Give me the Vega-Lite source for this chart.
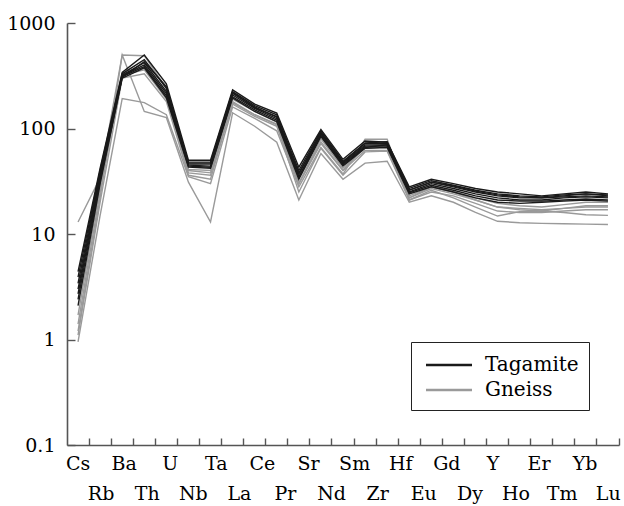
{
  "$schema": "https://vega.github.io/schema/vega-lite/v6.json",
  "width": 552,
  "height": 422,
  "autosize": {"type": "none"},
  "padding": {"left": 67, "top": 23, "right": 5, "bottom": 61},
  "background": "white",
  "config": {
    "view": {"stroke": null}
  },
  "data": {
    "values": [
      {"r":"Gneiss","s":"G1","e":"Cs","v":13},{"r":"Gneiss","s":"G1","e":"Rb","v":34},{"r":"Gneiss","s":"G1","e":"Ba","v":498},{"r":"Gneiss","s":"G1","e":"Th","v":490},{"r":"Gneiss","s":"G1","e":"U","v":240},{"r":"Gneiss","s":"G1","e":"Nb","v":40},{"r":"Gneiss","s":"G1","e":"Ta","v":38},{"r":"Gneiss","s":"G1","e":"La","v":175},{"r":"Gneiss","s":"G1","e":"Ce","v":135},{"r":"Gneiss","s":"G1","e":"Pr","v":110},{"r":"Gneiss","s":"G1","e":"Sr","v":30},{"r":"Gneiss","s":"G1","e":"Nd","v":72},{"r":"Gneiss","s":"G1","e":"Sm","v":40},{"r":"Gneiss","s":"G1","e":"Zr","v":68},{"r":"Gneiss","s":"G1","e":"Hf","v":70},{"r":"Gneiss","s":"G1","e":"Eu","v":22},{"r":"Gneiss","s":"G1","e":"Gd","v":28},{"r":"Gneiss","s":"G1","e":"Tb","v":25},{"r":"Gneiss","s":"G1","e":"Dy","v":21},{"r":"Gneiss","s":"G1","e":"Y","v":18},{"r":"Gneiss","s":"G1","e":"Ho","v":17.5},{"r":"Gneiss","s":"G1","e":"Er","v":17},{"r":"Gneiss","s":"G1","e":"Tm","v":17.5},{"r":"Gneiss","s":"G1","e":"Yb","v":18},{"r":"Gneiss","s":"G1","e":"Lu","v":18},
      {"r":"Gneiss","s":"G2","e":"Cs","v":1.2},{"r":"Gneiss","s":"G2","e":"Rb","v":22},{"r":"Gneiss","s":"G2","e":"Ba","v":498},{"r":"Gneiss","s":"G2","e":"Th","v":145},{"r":"Gneiss","s":"G2","e":"U","v":127},{"r":"Gneiss","s":"G2","e":"Nb","v":31},{"r":"Gneiss","s":"G2","e":"Ta","v":13},{"r":"Gneiss","s":"G2","e":"La","v":141},{"r":"Gneiss","s":"G2","e":"Ce","v":105},{"r":"Gneiss","s":"G2","e":"Pr","v":74},{"r":"Gneiss","s":"G2","e":"Sr","v":21},{"r":"Gneiss","s":"G2","e":"Nd","v":58},{"r":"Gneiss","s":"G2","e":"Sm","v":33},{"r":"Gneiss","s":"G2","e":"Zr","v":47},{"r":"Gneiss","s":"G2","e":"Hf","v":49},{"r":"Gneiss","s":"G2","e":"Eu","v":20},{"r":"Gneiss","s":"G2","e":"Gd","v":23},{"r":"Gneiss","s":"G2","e":"Tb","v":20},{"r":"Gneiss","s":"G2","e":"Dy","v":16},{"r":"Gneiss","s":"G2","e":"Y","v":13.2},{"r":"Gneiss","s":"G2","e":"Ho","v":12.8},{"r":"Gneiss","s":"G2","e":"Er","v":12.6},{"r":"Gneiss","s":"G2","e":"Tm","v":12.5},{"r":"Gneiss","s":"G2","e":"Yb","v":12.4},{"r":"Gneiss","s":"G2","e":"Lu","v":12.3},
      {"r":"Gneiss","s":"G3","e":"Cs","v":0.95},{"r":"Gneiss","s":"G3","e":"Rb","v":15},{"r":"Gneiss","s":"G3","e":"Ba","v":192},{"r":"Gneiss","s":"G3","e":"Th","v":176},{"r":"Gneiss","s":"G3","e":"U","v":135},{"r":"Gneiss","s":"G3","e":"Nb","v":35},{"r":"Gneiss","s":"G3","e":"Ta","v":30},{"r":"Gneiss","s":"G3","e":"La","v":160},{"r":"Gneiss","s":"G3","e":"Ce","v":125},{"r":"Gneiss","s":"G3","e":"Pr","v":95},{"r":"Gneiss","s":"G3","e":"Sr","v":28},{"r":"Gneiss","s":"G3","e":"Nd","v":66},{"r":"Gneiss","s":"G3","e":"Sm","v":37},{"r":"Gneiss","s":"G3","e":"Zr","v":79},{"r":"Gneiss","s":"G3","e":"Hf","v":79},{"r":"Gneiss","s":"G3","e":"Eu","v":21},{"r":"Gneiss","s":"G3","e":"Gd","v":26},{"r":"Gneiss","s":"G3","e":"Tb","v":22},{"r":"Gneiss","s":"G3","e":"Dy","v":18},{"r":"Gneiss","s":"G3","e":"Y","v":14.8},{"r":"Gneiss","s":"G3","e":"Ho","v":16.3},{"r":"Gneiss","s":"G3","e":"Er","v":16.5},{"r":"Gneiss","s":"G3","e":"Tm","v":16},{"r":"Gneiss","s":"G3","e":"Yb","v":15.2},{"r":"Gneiss","s":"G3","e":"Lu","v":15},
      {"r":"Gneiss","s":"G4","e":"Cs","v":1.7},{"r":"Gneiss","s":"G4","e":"Rb","v":28},{"r":"Gneiss","s":"G4","e":"Ba","v":330},{"r":"Gneiss","s":"G4","e":"Th","v":380},{"r":"Gneiss","s":"G4","e":"U","v":200},{"r":"Gneiss","s":"G4","e":"Nb","v":38},{"r":"Gneiss","s":"G4","e":"Ta","v":36},{"r":"Gneiss","s":"G4","e":"La","v":170},{"r":"Gneiss","s":"G4","e":"Ce","v":130},{"r":"Gneiss","s":"G4","e":"Pr","v":105},{"r":"Gneiss","s":"G4","e":"Sr","v":30},{"r":"Gneiss","s":"G4","e":"Nd","v":75},{"r":"Gneiss","s":"G4","e":"Sm","v":40},{"r":"Gneiss","s":"G4","e":"Zr","v":62},{"r":"Gneiss","s":"G4","e":"Hf","v":62},{"r":"Gneiss","s":"G4","e":"Eu","v":22},{"r":"Gneiss","s":"G4","e":"Gd","v":27},{"r":"Gneiss","s":"G4","e":"Tb","v":24},{"r":"Gneiss","s":"G4","e":"Dy","v":21},{"r":"Gneiss","s":"G4","e":"Y","v":18},{"r":"Gneiss","s":"G4","e":"Ho","v":17},{"r":"Gneiss","s":"G4","e":"Er","v":16.5},{"r":"Gneiss","s":"G4","e":"Tm","v":17.5},{"r":"Gneiss","s":"G4","e":"Yb","v":18.5},{"r":"Gneiss","s":"G4","e":"Lu","v":18.5},
      {"r":"Gneiss","s":"G5","e":"Cs","v":1.4},{"r":"Gneiss","s":"G5","e":"Rb","v":25},{"r":"Gneiss","s":"G5","e":"Ba","v":320},{"r":"Gneiss","s":"G5","e":"Th","v":360},{"r":"Gneiss","s":"G5","e":"U","v":190},{"r":"Gneiss","s":"G5","e":"Nb","v":41},{"r":"Gneiss","s":"G5","e":"Ta","v":40},{"r":"Gneiss","s":"G5","e":"La","v":190},{"r":"Gneiss","s":"G5","e":"Ce","v":145},{"r":"Gneiss","s":"G5","e":"Pr","v":115},{"r":"Gneiss","s":"G5","e":"Sr","v":30},{"r":"Gneiss","s":"G5","e":"Nd","v":80},{"r":"Gneiss","s":"G5","e":"Sm","v":42},{"r":"Gneiss","s":"G5","e":"Zr","v":65},{"r":"Gneiss","s":"G5","e":"Hf","v":67},{"r":"Gneiss","s":"G5","e":"Eu","v":23},{"r":"Gneiss","s":"G5","e":"Gd","v":28},{"r":"Gneiss","s":"G5","e":"Tb","v":25},{"r":"Gneiss","s":"G5","e":"Dy","v":22},{"r":"Gneiss","s":"G5","e":"Y","v":19.5},{"r":"Gneiss","s":"G5","e":"Ho","v":18.5},{"r":"Gneiss","s":"G5","e":"Er","v":18},{"r":"Gneiss","s":"G5","e":"Tm","v":19},{"r":"Gneiss","s":"G5","e":"Yb","v":20},{"r":"Gneiss","s":"G5","e":"Lu","v":20},
      {"r":"Gneiss","s":"G6","e":"Cs","v":1.1},{"r":"Gneiss","s":"G6","e":"Rb","v":20},{"r":"Gneiss","s":"G6","e":"Ba","v":300},{"r":"Gneiss","s":"G6","e":"Th","v":330},{"r":"Gneiss","s":"G6","e":"U","v":180},{"r":"Gneiss","s":"G6","e":"Nb","v":36},{"r":"Gneiss","s":"G6","e":"Ta","v":33},{"r":"Gneiss","s":"G6","e":"La","v":180},{"r":"Gneiss","s":"G6","e":"Ce","v":135},{"r":"Gneiss","s":"G6","e":"Pr","v":108},{"r":"Gneiss","s":"G6","e":"Sr","v":25},{"r":"Gneiss","s":"G6","e":"Nd","v":65},{"r":"Gneiss","s":"G6","e":"Sm","v":36},{"r":"Gneiss","s":"G6","e":"Zr","v":60},{"r":"Gneiss","s":"G6","e":"Hf","v":61},{"r":"Gneiss","s":"G6","e":"Eu","v":21},{"r":"Gneiss","s":"G6","e":"Gd","v":25},{"r":"Gneiss","s":"G6","e":"Tb","v":23},{"r":"Gneiss","s":"G6","e":"Dy","v":19.5},{"r":"Gneiss","s":"G6","e":"Y","v":16.5},{"r":"Gneiss","s":"G6","e":"Ho","v":16},{"r":"Gneiss","s":"G6","e":"Er","v":16},{"r":"Gneiss","s":"G6","e":"Tm","v":16.5},{"r":"Gneiss","s":"G6","e":"Yb","v":17},{"r":"Gneiss","s":"G6","e":"Lu","v":17},
      {"r":"Tagamite","s":"T1","e":"Cs","v":4.4},{"r":"Tagamite","s":"T1","e":"Rb","v":42},{"r":"Tagamite","s":"T1","e":"Ba","v":340},{"r":"Tagamite","s":"T1","e":"Th","v":497},{"r":"Tagamite","s":"T1","e":"U","v":265},{"r":"Tagamite","s":"T1","e":"Nb","v":50},{"r":"Tagamite","s":"T1","e":"Ta","v":50},{"r":"Tagamite","s":"T1","e":"La","v":232},{"r":"Tagamite","s":"T1","e":"Ce","v":170},{"r":"Tagamite","s":"T1","e":"Pr","v":140},{"r":"Tagamite","s":"T1","e":"Sr","v":43},{"r":"Tagamite","s":"T1","e":"Nd","v":98},{"r":"Tagamite","s":"T1","e":"Sm","v":51},{"r":"Tagamite","s":"T1","e":"Zr","v":76},{"r":"Tagamite","s":"T1","e":"Hf","v":74},{"r":"Tagamite","s":"T1","e":"Eu","v":28},{"r":"Tagamite","s":"T1","e":"Gd","v":33},{"r":"Tagamite","s":"T1","e":"Tb","v":30},{"r":"Tagamite","s":"T1","e":"Dy","v":27},{"r":"Tagamite","s":"T1","e":"Y","v":25},{"r":"Tagamite","s":"T1","e":"Ho","v":24},{"r":"Tagamite","s":"T1","e":"Er","v":23},{"r":"Tagamite","s":"T1","e":"Tm","v":24},{"r":"Tagamite","s":"T1","e":"Yb","v":25},{"r":"Tagamite","s":"T1","e":"Lu","v":24},
      {"r":"Tagamite","s":"T2","e":"Cs","v":3.9},{"r":"Tagamite","s":"T2","e":"Rb","v":40},{"r":"Tagamite","s":"T2","e":"Ba","v":330},{"r":"Tagamite","s":"T2","e":"Th","v":450},{"r":"Tagamite","s":"T2","e":"U","v":240},{"r":"Tagamite","s":"T2","e":"Nb","v":48},{"r":"Tagamite","s":"T2","e":"Ta","v":48},{"r":"Tagamite","s":"T2","e":"La","v":224},{"r":"Tagamite","s":"T2","e":"Ce","v":165},{"r":"Tagamite","s":"T2","e":"Pr","v":135},{"r":"Tagamite","s":"T2","e":"Sr","v":40},{"r":"Tagamite","s":"T2","e":"Nd","v":95},{"r":"Tagamite","s":"T2","e":"Sm","v":49},{"r":"Tagamite","s":"T2","e":"Zr","v":72},{"r":"Tagamite","s":"T2","e":"Hf","v":72},{"r":"Tagamite","s":"T2","e":"Eu","v":27},{"r":"Tagamite","s":"T2","e":"Gd","v":32},{"r":"Tagamite","s":"T2","e":"Tb","v":29},{"r":"Tagamite","s":"T2","e":"Dy","v":26},{"r":"Tagamite","s":"T2","e":"Y","v":24},{"r":"Tagamite","s":"T2","e":"Ho","v":23},{"r":"Tagamite","s":"T2","e":"Er","v":22.5},{"r":"Tagamite","s":"T2","e":"Tm","v":23.5},{"r":"Tagamite","s":"T2","e":"Yb","v":24},{"r":"Tagamite","s":"T2","e":"Lu","v":23.5},
      {"r":"Tagamite","s":"T3","e":"Cs","v":3.4},{"r":"Tagamite","s":"T3","e":"Rb","v":38},{"r":"Tagamite","s":"T3","e":"Ba","v":320},{"r":"Tagamite","s":"T3","e":"Th","v":420},{"r":"Tagamite","s":"T3","e":"U","v":225},{"r":"Tagamite","s":"T3","e":"Nb","v":46},{"r":"Tagamite","s":"T3","e":"Ta","v":46},{"r":"Tagamite","s":"T3","e":"La","v":215},{"r":"Tagamite","s":"T3","e":"Ce","v":160},{"r":"Tagamite","s":"T3","e":"Pr","v":128},{"r":"Tagamite","s":"T3","e":"Sr","v":37},{"r":"Tagamite","s":"T3","e":"Nd","v":92},{"r":"Tagamite","s":"T3","e":"Sm","v":47},{"r":"Tagamite","s":"T3","e":"Zr","v":70},{"r":"Tagamite","s":"T3","e":"Hf","v":70},{"r":"Tagamite","s":"T3","e":"Eu","v":26},{"r":"Tagamite","s":"T3","e":"Gd","v":31},{"r":"Tagamite","s":"T3","e":"Tb","v":28},{"r":"Tagamite","s":"T3","e":"Dy","v":25},{"r":"Tagamite","s":"T3","e":"Y","v":23},{"r":"Tagamite","s":"T3","e":"Ho","v":22},{"r":"Tagamite","s":"T3","e":"Er","v":22},{"r":"Tagamite","s":"T3","e":"Tm","v":22.5},{"r":"Tagamite","s":"T3","e":"Yb","v":23},{"r":"Tagamite","s":"T3","e":"Lu","v":22.5},
      {"r":"Tagamite","s":"T4","e":"Cs","v":3.0},{"r":"Tagamite","s":"T4","e":"Rb","v":36},{"r":"Tagamite","s":"T4","e":"Ba","v":315},{"r":"Tagamite","s":"T4","e":"Th","v":400},{"r":"Tagamite","s":"T4","e":"U","v":215},{"r":"Tagamite","s":"T4","e":"Nb","v":45},{"r":"Tagamite","s":"T4","e":"Ta","v":44},{"r":"Tagamite","s":"T4","e":"La","v":208},{"r":"Tagamite","s":"T4","e":"Ce","v":155},{"r":"Tagamite","s":"T4","e":"Pr","v":124},{"r":"Tagamite","s":"T4","e":"Sr","v":35},{"r":"Tagamite","s":"T4","e":"Nd","v":89},{"r":"Tagamite","s":"T4","e":"Sm","v":46},{"r":"Tagamite","s":"T4","e":"Zr","v":68},{"r":"Tagamite","s":"T4","e":"Hf","v":68},{"r":"Tagamite","s":"T4","e":"Eu","v":25},{"r":"Tagamite","s":"T4","e":"Gd","v":30},{"r":"Tagamite","s":"T4","e":"Tb","v":27},{"r":"Tagamite","s":"T4","e":"Dy","v":24},{"r":"Tagamite","s":"T4","e":"Y","v":22},{"r":"Tagamite","s":"T4","e":"Ho","v":21},{"r":"Tagamite","s":"T4","e":"Er","v":21},{"r":"Tagamite","s":"T4","e":"Tm","v":22},{"r":"Tagamite","s":"T4","e":"Yb","v":22.5},{"r":"Tagamite","s":"T4","e":"Lu","v":22},
      {"r":"Tagamite","s":"T5","e":"Cs","v":2.7},{"r":"Tagamite","s":"T5","e":"Rb","v":34},{"r":"Tagamite","s":"T5","e":"Ba","v":310},{"r":"Tagamite","s":"T5","e":"Th","v":385},{"r":"Tagamite","s":"T5","e":"U","v":205},{"r":"Tagamite","s":"T5","e":"Nb","v":44},{"r":"Tagamite","s":"T5","e":"Ta","v":43},{"r":"Tagamite","s":"T5","e":"La","v":200},{"r":"Tagamite","s":"T5","e":"Ce","v":150},{"r":"Tagamite","s":"T5","e":"Pr","v":120},{"r":"Tagamite","s":"T5","e":"Sr","v":34},{"r":"Tagamite","s":"T5","e":"Nd","v":86},{"r":"Tagamite","s":"T5","e":"Sm","v":45},{"r":"Tagamite","s":"T5","e":"Zr","v":66},{"r":"Tagamite","s":"T5","e":"Hf","v":70},{"r":"Tagamite","s":"T5","e":"Eu","v":24.5},{"r":"Tagamite","s":"T5","e":"Gd","v":29},{"r":"Tagamite","s":"T5","e":"Tb","v":26},{"r":"Tagamite","s":"T5","e":"Dy","v":23},{"r":"Tagamite","s":"T5","e":"Y","v":21},{"r":"Tagamite","s":"T5","e":"Ho","v":20.5},{"r":"Tagamite","s":"T5","e":"Er","v":20.5},{"r":"Tagamite","s":"T5","e":"Tm","v":21},{"r":"Tagamite","s":"T5","e":"Yb","v":21.5},{"r":"Tagamite","s":"T5","e":"Lu","v":21},
      {"r":"Tagamite","s":"T6","e":"Cs","v":2.4},{"r":"Tagamite","s":"T6","e":"Rb","v":32},{"r":"Tagamite","s":"T6","e":"Ba","v":300},{"r":"Tagamite","s":"T6","e":"Th","v":375},{"r":"Tagamite","s":"T6","e":"U","v":195},{"r":"Tagamite","s":"T6","e":"Nb","v":43},{"r":"Tagamite","s":"T6","e":"Ta","v":42},{"r":"Tagamite","s":"T6","e":"La","v":195},{"r":"Tagamite","s":"T6","e":"Ce","v":145},{"r":"Tagamite","s":"T6","e":"Pr","v":116},{"r":"Tagamite","s":"T6","e":"Sr","v":33},{"r":"Tagamite","s":"T6","e":"Nd","v":84},{"r":"Tagamite","s":"T6","e":"Sm","v":44},{"r":"Tagamite","s":"T6","e":"Zr","v":65},{"r":"Tagamite","s":"T6","e":"Hf","v":66},{"r":"Tagamite","s":"T6","e":"Eu","v":24},{"r":"Tagamite","s":"T6","e":"Gd","v":28},{"r":"Tagamite","s":"T6","e":"Tb","v":25},{"r":"Tagamite","s":"T6","e":"Dy","v":22},{"r":"Tagamite","s":"T6","e":"Y","v":20},{"r":"Tagamite","s":"T6","e":"Ho","v":19.5},{"r":"Tagamite","s":"T6","e":"Er","v":20},{"r":"Tagamite","s":"T6","e":"Tm","v":20.5},{"r":"Tagamite","s":"T6","e":"Yb","v":21},{"r":"Tagamite","s":"T6","e":"Lu","v":20.5},
      {"r":"Tagamite","s":"T7","e":"Cs","v":2.1},{"r":"Tagamite","s":"T7","e":"Rb","v":30},{"r":"Tagamite","s":"T7","e":"Ba","v":305},{"r":"Tagamite","s":"T7","e":"Th","v":430},{"r":"Tagamite","s":"T7","e":"U","v":250},{"r":"Tagamite","s":"T7","e":"Nb","v":47},{"r":"Tagamite","s":"T7","e":"Ta","v":47},{"r":"Tagamite","s":"T7","e":"La","v":220},{"r":"Tagamite","s":"T7","e":"Ce","v":158},{"r":"Tagamite","s":"T7","e":"Pr","v":130},{"r":"Tagamite","s":"T7","e":"Sr","v":38},{"r":"Tagamite","s":"T7","e":"Nd","v":90},{"r":"Tagamite","s":"T7","e":"Sm","v":48},{"r":"Tagamite","s":"T7","e":"Zr","v":73},{"r":"Tagamite","s":"T7","e":"Hf","v":75},{"r":"Tagamite","s":"T7","e":"Eu","v":26},{"r":"Tagamite","s":"T7","e":"Gd","v":31},{"r":"Tagamite","s":"T7","e":"Tb","v":28.5},{"r":"Tagamite","s":"T7","e":"Dy","v":25.5},{"r":"Tagamite","s":"T7","e":"Y","v":23.5},{"r":"Tagamite","s":"T7","e":"Ho","v":22.5},{"r":"Tagamite","s":"T7","e":"Er","v":22},{"r":"Tagamite","s":"T7","e":"Tm","v":23},{"r":"Tagamite","s":"T7","e":"Yb","v":24},{"r":"Tagamite","s":"T7","e":"Lu","v":23}
    ]
  },
  "mark": {"type": "line", "strokeWidth": 1.4},
  "encoding": {
    "x": {
      "field": "e",
      "type": "nominal",
      "sort": null,
      "scale": {"type": "band", "domain": ["Cs","Rb","Ba","Th","U","Nb","Ta","La","Ce","Pr","Sr","Nd","Sm","Zr","Hf","Eu","Gd","Tb","Dy","Y","Ho","Er","Tm","Yb","Lu"], "paddingInner": 0, "paddingOuter": 0},
      "axis": {
        "title": null,
        "bandPosition": 1,
        "domainColor": "#555555",
        "domainWidth": 1.6,
        "tickColor": "#555555",
        "tickWidth": 1.4,
        "tickSize": -7,
        "labelPadding": 16,
        "labelAngle": 0,
        "labelFont": "DejaVu Serif",
        "labelFontSize": 19,
        "labelColor": "black",
        "labelLineHeight": 30,
        "labelOverlap": false,
        "labelOffset": {"expr": "indexof(['Cs','Rb','Ba','Th','U','Nb','Ta','La','Ce','Pr','Sr','Nd','Sm','Zr','Hf','Eu','Gd','Dy','Y','Ho','Er','Tm','Yb','Lu'], datum.value) * 23.05 - indexof(['Cs','Rb','Ba','Th','U','Nb','Ta','La','Ce','Pr','Sr','Nd','Sm','Zr','Hf','Eu','Gd','Tb','Dy','Y','Ho','Er','Tm','Yb','Lu'], datum.value) * 22.08"},
        "labelExpr": "datum.value == 'Tb' ? '' : (indexof(['Rb','Th','Nb','La','Pr','Nd','Zr','Eu','Dy','Ho','Tm','Lu'], datum.value) >= 0 ? ['', datum.value] : datum.value)"
      }
    },
    "y": {
      "field": "v",
      "type": "quantitative",
      "scale": {"type": "log", "domain": [0.1, 1000], "nice": false},
      "axis": {
        "title": null,
        "values": [0.1, 1, 10, 100, 1000],
        "format": "~f",
        "grid": false,
        "domainColor": "#555555",
        "domainWidth": 1.6,
        "tickColor": "#555555",
        "tickWidth": 1.4,
        "tickSize": -8,
        "labelPadding": 20,
        "labelFont": "DejaVu Serif",
        "labelFontSize": 19,
        "labelColor": "black"
      }
    },
    "color": {
      "field": "r",
      "type": "nominal",
      "scale": {"domain": ["Tagamite", "Gneiss"], "range": ["#1a1a1a", "#9a9a9a"]},
      "legend": {
        "title": null,
        "orient": "none",
        "legendX": 344,
        "legendY": 319,
        "direction": "vertical",
        "strokeColor": "#222222",
        "padding": 10,
        "symbolType": "M-2,0H2",
        "symbolSize": 529,
        "symbolStrokeWidth": 2.6,
        "symbolOffset": 15,
        "labelOffset": 23,
        "labelFont": "DejaVu Serif",
        "labelFontSize": 20,
        "labelColor": "black",
        "labelExpr": "datum.label + '\u00a0\u00a0\u00a0'",
        "rowPadding": 2
      }
    },
    "detail": {"field": "s"}
  }
}
